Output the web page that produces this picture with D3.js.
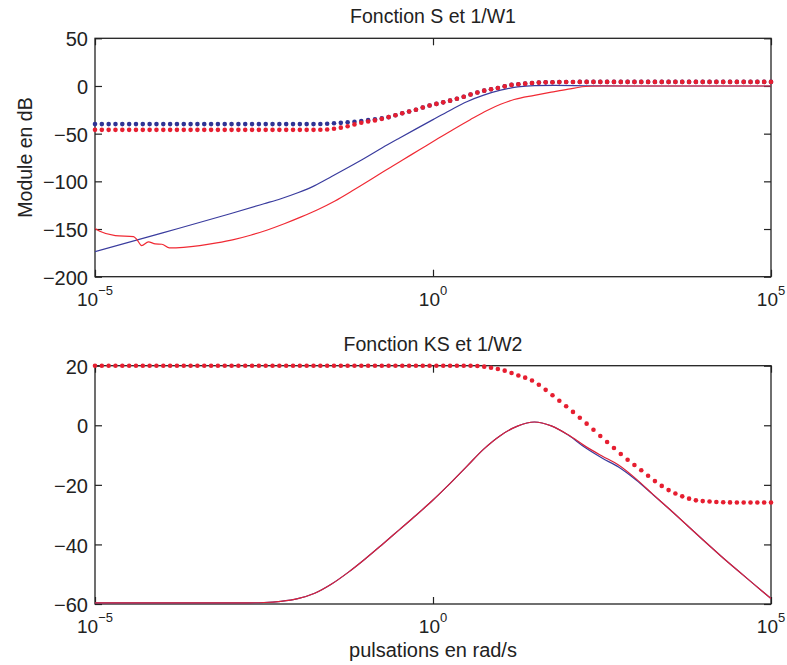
<!DOCTYPE html>
<html>
<head>
<meta charset="utf-8">
<script src="https://cdn.jsdelivr.net/npm/d3@7"></script>
<style>
  html, body { margin: 0; padding: 0; background: #fff; }
  svg { display: block; font-family: "Liberation Sans", Arial, Helvetica, sans-serif; }
</style>
</head>
<body>
<svg id="chart" width="787" height="665"></svg>
<script>
// ---------- DATA (log10 of pulsation, module in dB) ----------
const titles = ["Fonction S et 1/W1", "Fonction KS et 1/W2"];
const yLabelTop = "Module en dB";
const xLabelBottom = "pulsations en rad/s";
const xTickExp = [-5, 0, 5];
const yTicksTop = [50, 0, -50, -100, -150, -200];
const yTicksBottom = [20, 0, -20, -40, -60];
const markerCount = 100; // markers on the dotted (weighting) curves

// Top: 1/W1 (blue, dotted)
const w1BlueLogW = [-5, -1.8, -1.5, -1.3, -1.1, -0.9, -0.67, -0.46, -0.25, -0.06, 0.15, 0.36, 0.55, 0.74, 0.96, 1.15, 1.36, 1.55, 1.88, 2.3, 5];
const w1BlueDb   = [-40, -40, -39.3, -38.3, -37, -35.3, -32.9, -28.7, -24.8, -20.6, -17.2, -13.3, -9.1, -5.2, -2.1, 1.0, 2.4, 3.5, 4.1, 4.3, 4.3];
// Top: 1/W1 (red, dotted)
const w1RedLogW = [-5, -1.8, -1.57, -1.27, -1.08, -0.86, -0.67, -0.46, -0.25, -0.06, 0.15, 0.36, 0.55, 0.74, 0.96, 1.15, 1.36, 1.55, 1.88, 2.3, 5];
const w1RedDb   = [-46, -46, -45.6, -42.3, -38.8, -36.1, -32.9, -28.7, -24.8, -20.6, -17.2, -13.3, -9.1, -5.2, -2.1, 1.0, 2.4, 3.5, 4.1, 4.3, 4.3];
// Top: S (blue, solid)
const sBlueLogW = [-5, -4, -3, -2.5, -2.25, -2, -1.75, -1.5, -1.25, -1, -0.75, -0.5, -0.25, 0, 0.25, 0.5, 0.75, 1.0, 1.25, 1.5, 1.8, 2.3, 3, 5];
const sBlueDb   = [-173.7, -154, -134, -123.5, -118.2, -112, -104.5, -95, -85.3, -75.3, -64.8, -54.8, -45, -35.3, -25.7, -16.5, -9.6, -4.4, -1.0, 0.4, 0.6, 0.2, 0, 0];
// Top: S (red, solid)
const sRedLogW = [-5, -4.93, -4.70, -4.43, -4.38, -4.31, -4.21, -4.11, -4.01, -3.90, -3.69, -3.45, -3.20, -2.95, -2.7, -2.45, -2.2, -1.95, -1.7, -1.45, -1.2, -0.95, -0.7, -0.45, -0.2, 0.05, 0.3, 0.55, 0.8, 1.0, 1.2, 1.5, 1.75, 2.0, 2.3, 2.5, 5];
const sRedDb   = [-149.6, -152.4, -156.9, -158, -161.1, -167.4, -163.5, -165.6, -166, -169.8, -169.2, -167.4, -164.6, -161.1, -156.5, -151, -144.5, -137.3, -129.5, -120.6, -110.2, -99.4, -88.3, -77.6, -66.9, -56.2, -45.6, -35.4, -25.7, -19.2, -14.2, -9.8, -6.5, -3.3, -0.3, 0, 0];

// Bottom: 1/W2 (red, dotted)
const w2LogW = [-5, 0.4, 0.65, 0.84, 1.05, 1.25, 1.46, 1.66, 1.86, 2.07, 2.27, 2.47, 2.67, 2.87, 3.08, 3.28, 3.48, 3.68, 3.89, 4.09, 4.4, 5];
const w2Db   = [20, 20, 19.9, 19.4, 18.4, 16.8, 15.1, 12.0, 8.4, 4.5, 0.6, -3.5, -7.5, -11.4, -15.1, -18.7, -21.7, -23.8, -25.2, -25.6, -25.9, -25.9];
// Bottom: KS (blue, solid)
const ksBlueLogW = [-5, -2.75, -2.5, -2.25, -2, -1.75, -1.5, -1.25, -1, -0.75, -0.5, -0.25, 0, 0.25, 0.5, 0.75, 1.0, 1.25, 1.5, 1.75, 2.0, 2.25, 2.5, 2.75, 3.0, 3.25, 3.5, 3.75, 4.0, 4.25, 4.5, 4.75, 5];
const ksBlueDb   = [-59.6, -59.6, -59.5, -59.1, -58.2, -56.4, -53.3, -49.3, -44.8, -40.0, -35.1, -30.2, -25.1, -19.6, -13.8, -8.0, -3.4, -0.3, 1.1, -0.2, -3.3, -7.5, -11.0, -14.1, -18.3, -23.2, -28.2, -33.4, -38.6, -43.7, -48.6, -53.4, -58.2];
// Bottom: KS (red, solid)
const ksRedLogW = [-5, -2.75, -2.5, -2.25, -2, -1.75, -1.5, -1.25, -1, -0.75, -0.5, -0.25, 0, 0.25, 0.5, 0.75, 1.0, 1.25, 1.5, 1.75, 2.0, 2.25, 2.5, 2.75, 3.0, 3.25, 3.5, 3.75, 4.0, 4.25, 4.5, 4.75, 5];
const ksRedDb   = [-59.6, -59.6, -59.5, -59.1, -58.2, -56.4, -53.3, -49.3, -44.8, -40.0, -35.1, -30.2, -25.1, -19.6, -13.8, -8.0, -3.4, -0.3, 1.1, -0.2, -3.2, -7.0, -10.3, -13.4, -17.9, -23.1, -28.2, -33.4, -38.6, -43.7, -48.6, -53.4, -58.2];

// ---------- STYLE ----------
const BLUE_DOT = "#2f3394", BLUE_LINE = "#3a3c9e";
const RED_DOT = "#e61e30", RED_LINE = "#f02a34";
const TICK_FONT = 20, TEXT_FONT = 19.5;

const svg = d3.select("#chart");
const X0 = 95, X1 = 771;

const xScale = d3.scaleLog().domain([1e-5, 1e5]).range([X0, X1]);

function zip(lw, db) { return lw.map((v, i) => ({ w: Math.pow(10, v), db: db[i] })); }

// place round markers along a drawn path at evenly spaced screen-x positions
function markersAlong(pathNode, n) {
  const len = pathNode.getTotalLength();
  const step = (X1 - X0) / (n - 1);
  const pts = [];
  let k = 0, s = 0, prev = pathNode.getPointAtLength(0);
  if (prev.x >= X0 - 0.5) { pts.push(prev); k = 1; }
  while (s < len && k < n) {
    s = Math.min(len, s + 0.4);
    const p = pathNode.getPointAtLength(s);
    const target = X0 + k * step;
    if (p.x >= target - 1e-6) {
      const t = (target - prev.x) / ((p.x - prev.x) || 1);
      pts.push({ x: target, y: prev.y + t * (p.y - prev.y) });
      k++;
    }
    prev = p;
  }
  return pts;
}

function panel(cfg) {
  const y = d3.scaleLinear().domain(cfg.yDomain).range([cfg.bottom, cfg.top]);
  const g = svg.append("g");

  const line = d3.line().x(d => xScale(d.w)).y(d => y(d.db)).curve(d3.curveMonotoneX);

  const clipId = "clip" + cfg.id;
  svg.append("clipPath").attr("id", clipId).append("rect")
    .attr("x", X0).attr("y", cfg.top).attr("width", X1 - X0).attr("height", cfg.bottom - cfg.top);

  // axes box
  g.append("rect").attr("x", X0).attr("y", cfg.top).attr("width", X1 - X0).attr("height", cfg.bottom - cfg.top)
    .attr("fill", "none").attr("stroke", "#222").attr("stroke-width", 1.3);

  // ticks (inside)
  const axL = d3.axisLeft(y).tickValues(cfg.yTicks).tickSize(-7).tickPadding(7)
    .tickFormat(d => d < 0 ? "\u2212" + Math.abs(d) : String(d));
  const gl = g.append("g").attr("transform", `translate(${X0},0)`).call(axL);
  const axR = d3.axisRight(y).tickValues(cfg.yTicks).tickSize(-7).tickFormat("");
  const gr = g.append("g").attr("transform", `translate(${X1},0)`).call(axR);
  const xt = xTickExp.map(e => Math.pow(10, e));
  const axB = d3.axisBottom(xScale).tickValues(xt).tickSize(-7).tickFormat("");
  const gb = g.append("g").attr("transform", `translate(0,${cfg.bottom})`).call(axB);
  const axT = d3.axisTop(xScale).tickValues(xt).tickSize(-7).tickFormat("");
  const gt = g.append("g").attr("transform", `translate(0,${cfg.top})`).call(axT);
  [gl, gr, gb, gt].forEach(a => {
    a.select(".domain").remove();
    a.selectAll(".tick line").attr("stroke", "#222").attr("stroke-width", 1.2);
  });
  gl.selectAll(".tick text").attr("font-size", TICK_FONT).attr("font-family", "Liberation Sans, Arial, sans-serif")
    .attr("fill", "#222").attr("dy", "0.38em");

  // x tick labels 10^e
  const xl = g.append("g").selectAll("text").data(xTickExp).join("text")
    .attr("x", e => xScale(Math.pow(10, e))).attr("y", cfg.bottom + 29)
    .attr("text-anchor", "middle").attr("font-size", 19).attr("fill", "#222");
  xl.append("tspan").text("10");
  xl.append("tspan").attr("dy", -11).attr("font-size", 13).text(e => e < 0 ? "\u2212" + Math.abs(e) : String(e));

  // title
  g.append("text").attr("x", (X0 + X1) / 2).attr("y", cfg.top - 15).attr("text-anchor", "middle")
    .attr("font-size", TEXT_FONT).attr("fill", "#222").text(cfg.title);

  // series
  cfg.series.forEach(s => {
    if (s.dotted) {
      const guide = g.append("path").datum(s.data).attr("d", line).attr("fill", "none").attr("stroke", "none");
      const pts = markersAlong(guide.node(), markerCount);
      g.append("g").selectAll("circle").data(pts).join("circle")
        .attr("cx", d => d.x).attr("cy", d => d.y).attr("r", 2.3).attr("fill", s.color);
    } else {
      g.append("path").datum(s.data).attr("d", line).attr("fill", "none").attr("stroke", s.color)
        .attr("stroke-width", 1.2).attr("clip-path", `url(#${clipId})`);
    }
  });
  return { g, y };
}

panel({
  id: "t", top: 38.3, bottom: 276.7, yDomain: [-200, 50], yTicks: yTicksTop, title: titles[0],
  series: [
    { data: zip(sBlueLogW, sBlueDb), color: BLUE_LINE },
    { data: zip(sRedLogW, sRedDb), color: RED_LINE },
    { data: zip(w1BlueLogW, w1BlueDb), color: BLUE_DOT, dotted: true },
    { data: zip(w1RedLogW, w1RedDb), color: RED_DOT, dotted: true }
  ]
});

panel({
  id: "b", top: 365.7, bottom: 604, yDomain: [-60, 20], yTicks: yTicksBottom, title: titles[1],
  series: [
    { data: zip(ksBlueLogW, ksBlueDb), color: BLUE_LINE },
    { data: zip(ksRedLogW, ksRedDb), color: "#dc2238" },
    { data: zip(w2LogW, w2Db), color: RED_DOT, dotted: true }
  ]
});

// axis labels
svg.append("text").attr("transform", `translate(31.5,157.5) rotate(-90)`).attr("text-anchor", "middle")
  .attr("font-size", TEXT_FONT).attr("fill", "#222").text(yLabelTop);
svg.append("text").attr("x", (X0 + X1) / 2).attr("y", 657).attr("text-anchor", "middle")
  .attr("font-size", 20).attr("fill", "#222").text(xLabelBottom);
</script>
</body>
</html>
